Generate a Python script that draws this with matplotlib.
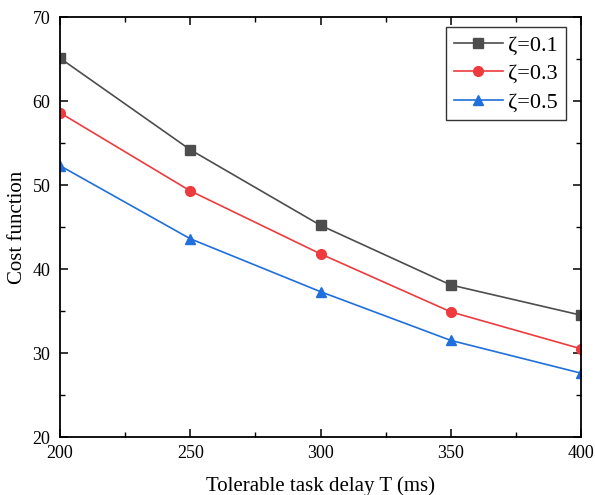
import matplotlib
matplotlib.use("Agg")
import matplotlib.pyplot as plt
from matplotlib.ticker import MultipleLocator

plt.rcParams['font.family'] = ['Liberation Serif', 'DejaVu Serif']

delay = [200, 250, 300, 350, 400]
cost_01 = [65.1, 54.2, 45.2, 38.1, 34.5]
cost_03 = [58.6, 49.3, 41.8, 34.9, 30.5]
cost_05 = [52.3, 43.6, 37.3, 31.5, 27.6]
labels = ["ζ=0.1", "ζ=0.3", "ζ=0.5"]

fig = plt.figure(figsize=(5.95, 4.95), dpi=100)
ax = fig.add_axes([60 / 595, 1 - 437 / 495, 521 / 595, 420 / 495])

ax.plot(delay, cost_01, color="#4D4D4D", marker="s", markersize=6.5, lw=1.2, label=labels[0])
ax.plot(delay, cost_03, color="#EE3B3E", marker="o", markersize=7, lw=1.2, label=labels[1])
ax.plot(delay, cost_05, color="#1F6FDC", marker="^", markersize=7.5, lw=1.2, label=labels[2])

ax.set_xlim(200, 400)
ax.set_ylim(20, 70)
ax.xaxis.set_major_locator(MultipleLocator(50))
ax.xaxis.set_minor_locator(MultipleLocator(25))
ax.yaxis.set_major_locator(MultipleLocator(10))
ax.yaxis.set_minor_locator(MultipleLocator(5))
ax.tick_params(which="both", direction="in", top=True, right=True, labelsize=13)
ax.tick_params(which="major", length=6, width=1.1)
ax.tick_params(which="minor", length=3.5, width=1.0)
ax.tick_params(axis="x", pad=6)
ax.tick_params(axis="y", pad=7)
for s in ax.spines.values():
    s.set_linewidth(1.3)

ax.set_xlabel("Tolerable task delay T (ms)", fontsize=15, labelpad=10)
ax.set_ylabel("Cost function", fontsize=15, labelpad=4)

leg = ax.legend(loc="upper right", bbox_to_anchor=(0.971, 0.976), fontsize=16,
                frameon=True, fancybox=False, edgecolor="black", borderpad=0.35,
                handlelength=2.2, labelspacing=0.36, handletextpad=0.25,
                borderaxespad=0)
leg.get_frame().set_linewidth(1.0)

fig.savefig("out.png", dpi=100)
